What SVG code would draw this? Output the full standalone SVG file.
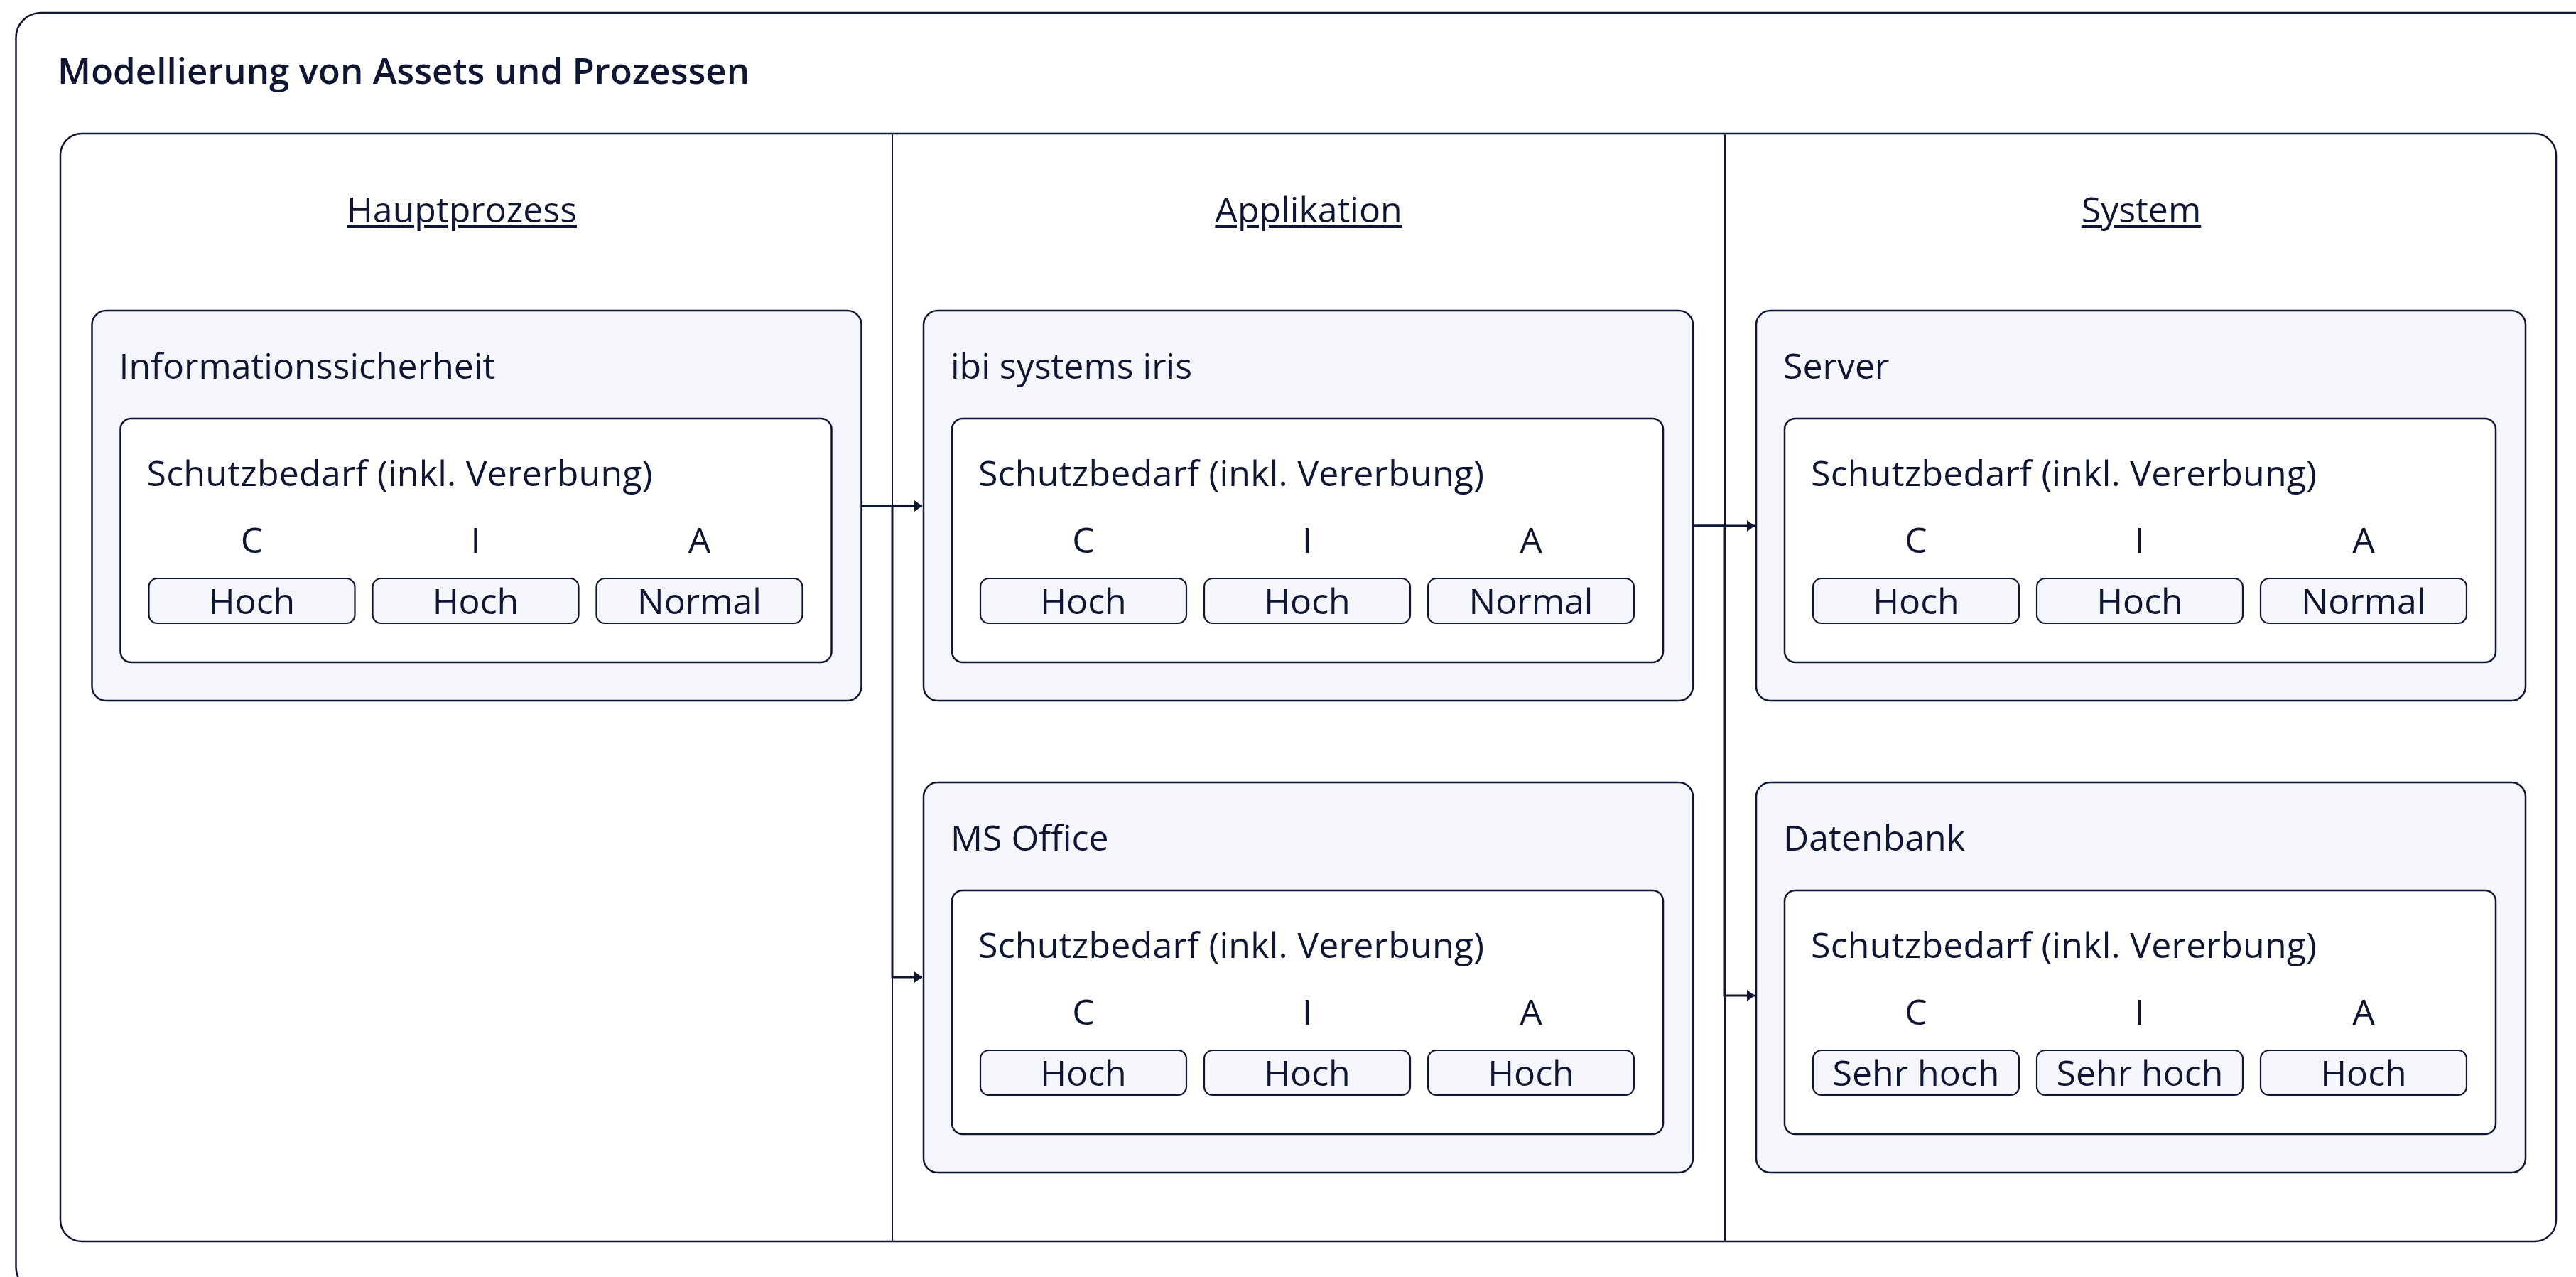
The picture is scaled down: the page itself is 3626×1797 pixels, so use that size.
<svg xmlns="http://www.w3.org/2000/svg" width="3626" height="1797" viewBox="0 0 3626 1797">
<style>
  text { font-family: "Open Sans", "Noto Sans", sans-serif; fill: #0e1633; font-size: 50px; }
  .title { font-weight: 600; font-size: 51px; }
  .hdr { text-anchor: middle; text-decoration: underline; }
  .mid { text-anchor: middle; }
  .frame { fill: #ffffff; stroke: #0e1633; stroke-width: 2.5; }
  .sep { stroke: #0e1633; stroke-width: 2; }
  .node { fill: #f4f6fb; stroke: #0e1633; stroke-width: 2.5; }
  .inner { fill: #ffffff; stroke: #0e1633; stroke-width: 2.5; }
  .val { fill: #f4f6fb; stroke: #0e1633; stroke-width: 2.2; }
  .conn { fill: none; stroke: #0e1633; stroke-width: 3; marker-end: url(#arrow); }
</style>
<defs>
  <marker id="arrow" markerUnits="userSpaceOnUse" markerWidth="12" markerHeight="16" refX="11" refY="8" orient="auto">
    <path d="M0,0 L11,8 L0,16 Z" fill="#0e1633"/>
  </marker>
  <g id="sb">
    <rect class="inner" x="0" y="0" width="1001" height="343" rx="15"/>
    <text x="37" y="95" textLength="712" lengthAdjust="spacing">Schutzbedarf (inkl. Vererbung)</text>
    <text class="mid" x="185" y="189">C</text>
    <text class="mid" x="500" y="189">I</text>
    <text class="mid" x="815" y="189">A</text>
    <rect class="val" x="40" y="225" width="290" height="63" rx="12"/>
    <rect class="val" x="355" y="225" width="290" height="63" rx="12"/>
    <rect class="val" x="670" y="225" width="290" height="63" rx="12"/>
  </g>
</defs>

<rect class="frame" x="22.5" y="18" width="3660" height="1800" rx="35"/>
<text class="title" x="81" y="118">Modellierung von Assets und Prozessen</text>

<g id="pool">
  <rect class="frame" x="85" y="188" width="3513" height="1559" rx="30"/>
  <line class="sep" x1="1256" y1="188" x2="1256" y2="1747"/>
  <line class="sep" x1="2428" y1="188" x2="2428" y2="1747"/>
  <text class="hdr" x="650" y="313">Hauptprozess</text>
  <text class="hdr" x="1842" y="313">Applikation</text>
  <text class="hdr" x="3014" y="313">System</text>
</g>

<g id="connectors">
  <path class="conn" d="M1212,712 H1298"/>
  <path class="conn" d="M1212,712 H1256 V1375 H1298"/>
  <path class="conn" d="M2384,740 H2470"/>
  <path class="conn" d="M2384,740 H2428 V1401 H2470"/>
</g>

<g id="node-informationssicherheit" transform="translate(129.5,437)">
  <rect class="node" width="1083" height="549" rx="20"/>
  <text x="38" y="96">Informationssicherheit</text>
  <g transform="translate(40,152)">
    <use href="#sb"/>
    <text class="mid" x="185" y="275">Hoch</text>
    <text class="mid" x="500" y="275">Hoch</text>
    <text class="mid" x="815" y="275">Normal</text>
  </g>
</g>

<g id="node-ibi-systems-iris" transform="translate(1300,437)">
  <rect class="node" width="1083" height="549" rx="20"/>
  <text x="38" y="96">ibi systems iris</text>
  <g transform="translate(40,152)">
    <use href="#sb"/>
    <text class="mid" x="185" y="275">Hoch</text>
    <text class="mid" x="500" y="275">Hoch</text>
    <text class="mid" x="815" y="275">Normal</text>
  </g>
</g>

<g id="node-ms-office" transform="translate(1300,1101)">
  <rect class="node" width="1083" height="549" rx="20"/>
  <text x="38" y="96">MS Office</text>
  <g transform="translate(40,152)">
    <use href="#sb"/>
    <text class="mid" x="185" y="275">Hoch</text>
    <text class="mid" x="500" y="275">Hoch</text>
    <text class="mid" x="815" y="275">Hoch</text>
  </g>
</g>

<g id="node-server" transform="translate(2472,437)">
  <rect class="node" width="1083" height="549" rx="20"/>
  <text x="38" y="96">Server</text>
  <g transform="translate(40,152)">
    <use href="#sb"/>
    <text class="mid" x="185" y="275">Hoch</text>
    <text class="mid" x="500" y="275">Hoch</text>
    <text class="mid" x="815" y="275">Normal</text>
  </g>
</g>

<g id="node-datenbank" transform="translate(2472,1101)">
  <rect class="node" width="1083" height="549" rx="20"/>
  <text x="38" y="96">Datenbank</text>
  <g transform="translate(40,152)">
    <use href="#sb"/>
    <text class="mid" x="185" y="275">Sehr hoch</text>
    <text class="mid" x="500" y="275">Sehr hoch</text>
    <text class="mid" x="815" y="275">Hoch</text>
  </g>
</g>
</svg>
